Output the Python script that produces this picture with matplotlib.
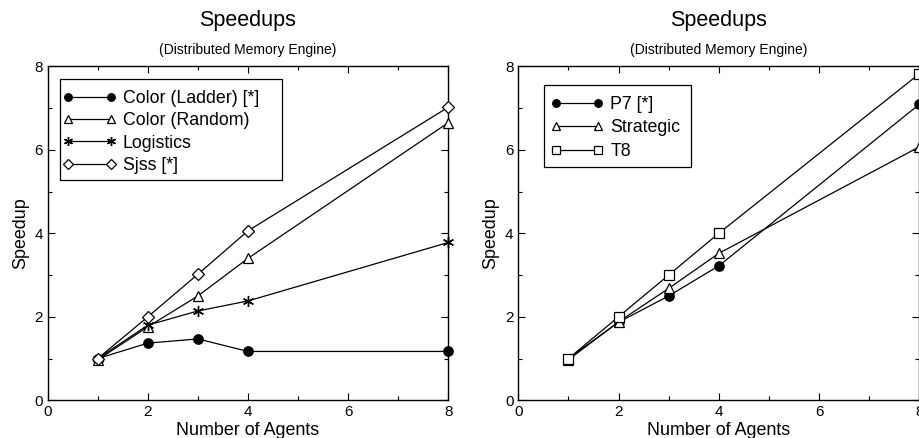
import matplotlib
matplotlib.use("Agg")
import matplotlib.pyplot as plt
from matplotlib.ticker import MultipleLocator
from matplotlib.patches import Rectangle

plt.rcParams['font.family'] = ['Liberation Sans', 'DejaVu Sans']

agents = [1, 2, 3, 4, 8]

left_names = ["Color (Ladder) [*]", "Color (Random)", "Logistics", "Sjss [*]"]
color_ladder = [1.0, 1.37, 1.47, 1.17, 1.17]
color_random = [0.97, 1.76, 2.5, 3.4, 6.65]
logistics = [1.0, 1.8, 2.14, 2.38, 3.78]
sjss = [1.0, 2.0, 3.02, 4.06, 7.02]

right_names = ["P7 [*]", "Strategic", "T8"]
p7 = [1.0, 1.87, 2.5, 3.22, 7.09]
strategic = [0.97, 1.88, 2.68, 3.52, 6.07]
t8 = [1.0, 2.0, 3.0, 4.0, 7.82]

title = "Speedups"
subtitle = "(Distributed Memory Engine)"
xlabel = "Number of Agents"
ylabel = "Speedup"

fig = plt.figure(figsize=(9.2, 4.38), dpi=100)
H = 438.0
W = 920.0
AH = 400.3 - 66.3
ax1 = fig.add_axes([47.7 / W, 1 - 400.3 / H, (448.3 - 47.7) / W, AH / H])
ax2 = fig.add_axes([518.3 / W, 1 - 400.3 / H, (919.3 - 518.3) / W, AH / H])

styles_left = [
    dict(marker='o', ms=6.7, mfc='black', mec='black'),
    dict(marker='^', ms=7.8, mfc='white', mec='black', mew=0.9),
    dict(marker=(6, 2, 0), ms=8, mfc='black', mec='black', mew=1.0),
    dict(marker='D', ms=6.2, mfc='white', mec='black', mew=0.9),
]
styles_right = [
    dict(marker='o', ms=6.7, mfc='black', mec='black'),
    dict(marker='^', ms=7.8, mfc='white', mec='black', mew=0.9),
    dict(marker='s', ms=7.2, mfc='white', mec='black', mew=0.9),
]

for name, vals, st in zip(left_names, [color_ladder, color_random, logistics, sjss], styles_left):
    ax1.plot(agents, vals, color='black', lw=0.9, label=name, clip_on=False, zorder=3, **st)
for name, vals, st in zip(right_names, [p7, strategic, t8], styles_right):
    ax2.plot(agents, vals, color='black', lw=0.9, label=name, clip_on=False, zorder=3, **st)

# legend content anchors (pixels) and frame boxes (pixels: x0, y0, x1, y1)
configs = [
    dict(ax=ax1, x0=47.7, aw=400.6, hx=62.7, ty=90.0, box=(60, 79, 282, 180), ls=0.3),
    dict(ax=ax2, x0=518.3, aw=401.0, hx=550.4, ty=96.0, box=(544, 85, 691, 167), ls=0.36),
]

for c in configs:
    ax = c['ax']
    ax.set_xlim(0, 8)
    ax.set_ylim(0, 8)
    ax.xaxis.set_major_locator(MultipleLocator(2))
    ax.yaxis.set_major_locator(MultipleLocator(2))
    ax.xaxis.set_minor_locator(MultipleLocator(1))
    ax.yaxis.set_minor_locator(MultipleLocator(1))
    ax.tick_params(which='both', direction='in', top=True, right=True, labelsize=11)
    ax.tick_params(which='major', length=5, width=0.8)
    ax.tick_params(which='minor', length=3, width=0.8)
    for s in ax.spines.values():
        s.set_linewidth(1.0)
    ax.set_xlabel(xlabel, fontsize=12.9, labelpad=2)
    ax.set_ylabel(ylabel, fontsize=12.9, labelpad=4)
    ax.set_title(subtitle, fontsize=10, pad=9)
    ax.text(0.5, 1.0 + (66.3 - 21) / AH, title, transform=ax.transAxes,
            ha='center', va='center', fontsize=15.5)
    anc = ((c['hx'] - c['x0']) / c['aw'], 1 - (c['ty'] - 66.3) / AH)
    leg = ax.legend(loc='upper left', bbox_to_anchor=anc, numpoints=2, markerscale=0.8,
                    handlelength=3.0, handletextpad=0.38, fontsize=12.8, frameon=False,
                    borderpad=0.0, labelspacing=c['ls'], borderaxespad=0.0)
    leg.set_zorder(6)
    bx0, by0, bx1, by1 = c['box']
    ax.add_patch(Rectangle((bx0 / W, 1 - by1 / H), (bx1 - bx0) / W, (by1 - by0) / H,
                           transform=fig.transFigure, fill=True, facecolor='white',
                           edgecolor='black', lw=0.9, zorder=5, clip_on=False))

fig.savefig("out.png", dpi=100)
